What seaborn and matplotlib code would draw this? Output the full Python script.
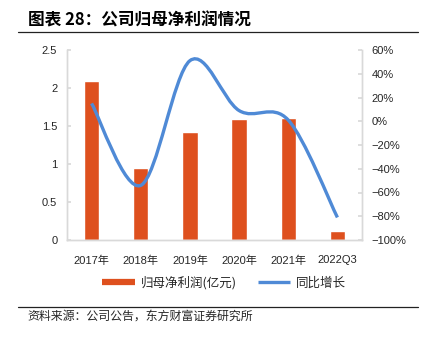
import numpy as np
import pandas as pd
import matplotlib
matplotlib.use("Agg")
import matplotlib.pyplot as plt
import seaborn as sns
from matplotlib.path import Path
from matplotlib.patches import PathPatch
from matplotlib.lines import Line2D
from matplotlib.ticker import FuncFormatter, FixedLocator

# ---- data ----
categories = ["2017年", "2018年", "2019年", "2020年", "2021年", "2022Q3"]
net_profit = [2.09, 0.95, 1.42, 1.59, 1.61, 0.12]      # 归母净利润(亿元)
yoy_growth = [15, -54, 51, 9, 1, -81]                  # 同比增长 (%)
left_ticks = [0, 0.5, 1, 1.5, 2, 2.5]
right_ticks = [-100, -80, -60, -40, -20, 0, 20, 40, 60]

title = "图表 28：公司归母净利润情况"
source = "资料来源：公司公告，东方财富证券研究所"
bar_label = "归母净利润(亿元)"
line_label = "同比增长"

BAR = "#DE501E"
LINE = "#4F8AD6"
SPINE = "#D9D9D9"
TXT = "#262626"

sns.set_theme(style="white")
plt.rcParams['font.family'] = ['Liberation Sans', 'Noto Sans CJK SC', 'DejaVu Sans']
plt.rcParams['axes.unicode_minus'] = True

fig = plt.figure(figsize=(4.25, 3.38), dpi=100)
ax = fig.add_axes([67 / 425, 1 - 240 / 338, (362 - 67) / 425, (240 - 50) / 338])

df = pd.DataFrame({"cat": categories, "profit": net_profit})
sns.barplot(data=df, x="cat", y="profit", color=BAR, saturation=1, width=0.31,
            ax=ax, zorder=2)
ax.set_xlim(-0.5, len(categories) - 0.5)
ax.set_ylim(0, 2.5)
ax.yaxis.set_major_locator(FixedLocator(left_ticks))
ax.yaxis.set_major_formatter(FuncFormatter(lambda v, p: f"{v:g}"))
ax.set_xlabel("")
ax.set_ylabel("")

ax2 = ax.twinx()
ax2.set_ylim(-100, 60)
ax2.yaxis.set_major_locator(FixedLocator(right_ticks))
ax2.yaxis.set_major_formatter(FuncFormatter(lambda v, p: f"{v:.0f}%".replace("-", "\u2212")))

# smoothed line (cardinal spline through the data points)
pts = np.column_stack([np.arange(len(yoy_growth)), np.array(yoy_growth, float)])
n = len(pts)
verts = [pts[0]]
codes = [Path.MOVETO]
for i in range(n - 1):
    p0 = pts[i - 1] if i > 0 else pts[i]
    p3 = pts[i + 2] if i + 2 < n else pts[i + 1]
    c1 = pts[i] + (pts[i + 1] - p0) / 6
    c2 = pts[i + 1] - (p3 - pts[i]) / 6
    verts += [c1, c2, pts[i + 1]]
    codes += [Path.CURVE4] * 3
ax2.add_patch(PathPatch(Path(verts, codes), facecolor="none", edgecolor=LINE,
                        lw=2.4, capstyle="butt", zorder=3))

for a in (ax, ax2):
    a.spines['top'].set_visible(False)
    for s in ('left', 'right', 'bottom'):
        a.spines[s].set_color(SPINE)
        a.spines[s].set_linewidth(1.0)
    a.grid(False)

ax.tick_params(axis='y', which='both', direction='in', length=3, color=SPINE,
               labelsize=8, pad=7, left=True, labelcolor=TXT)
ax.tick_params(axis='x', bottom=False, labelsize=8, pad=5, labelcolor=TXT)
ax2.tick_params(axis='y', which='both', direction='in', length=3, color=SPINE,
                labelsize=8, pad=7, right=True, labelcolor=TXT)

# legend
handles = [Line2D([0], [0], color=BAR, lw=4.5, solid_capstyle='butt'),
           Line2D([0], [0], color=LINE, lw=2.4, solid_capstyle='butt')]
fig.legend(handles, [bar_label, line_label], loc='center',
           bbox_to_anchor=(224 / 425, 1 - 283 / 338), ncol=2, frameon=False,
           handlelength=2.6, handletextpad=0.45, columnspacing=1.7,
           labelcolor=TXT, prop={'family': ['Noto Sans CJK SC'], 'size': 9})

# title, rules, source
fig.text(28 / 425, 1 - 20.5 / 338, title, fontsize=12, fontweight='bold',
         va='center', ha='left', color='black', family=['Noto Sans CJK SC'])
fig.add_artist(Line2D([18 / 425, 418 / 425], [1 - 32 / 338] * 2, color='#222222', lw=0.9))
fig.add_artist(Line2D([18 / 425, 418 / 425], [1 - 306.5 / 338] * 2, color='#222222', lw=0.9))
fig.text(27 / 425, 1 - 316 / 338, source, fontsize=8.6, va='center', ha='left',
         color=TXT, family=['Noto Sans CJK SC'])

fig.savefig("out.png", dpi=100, facecolor='white')
